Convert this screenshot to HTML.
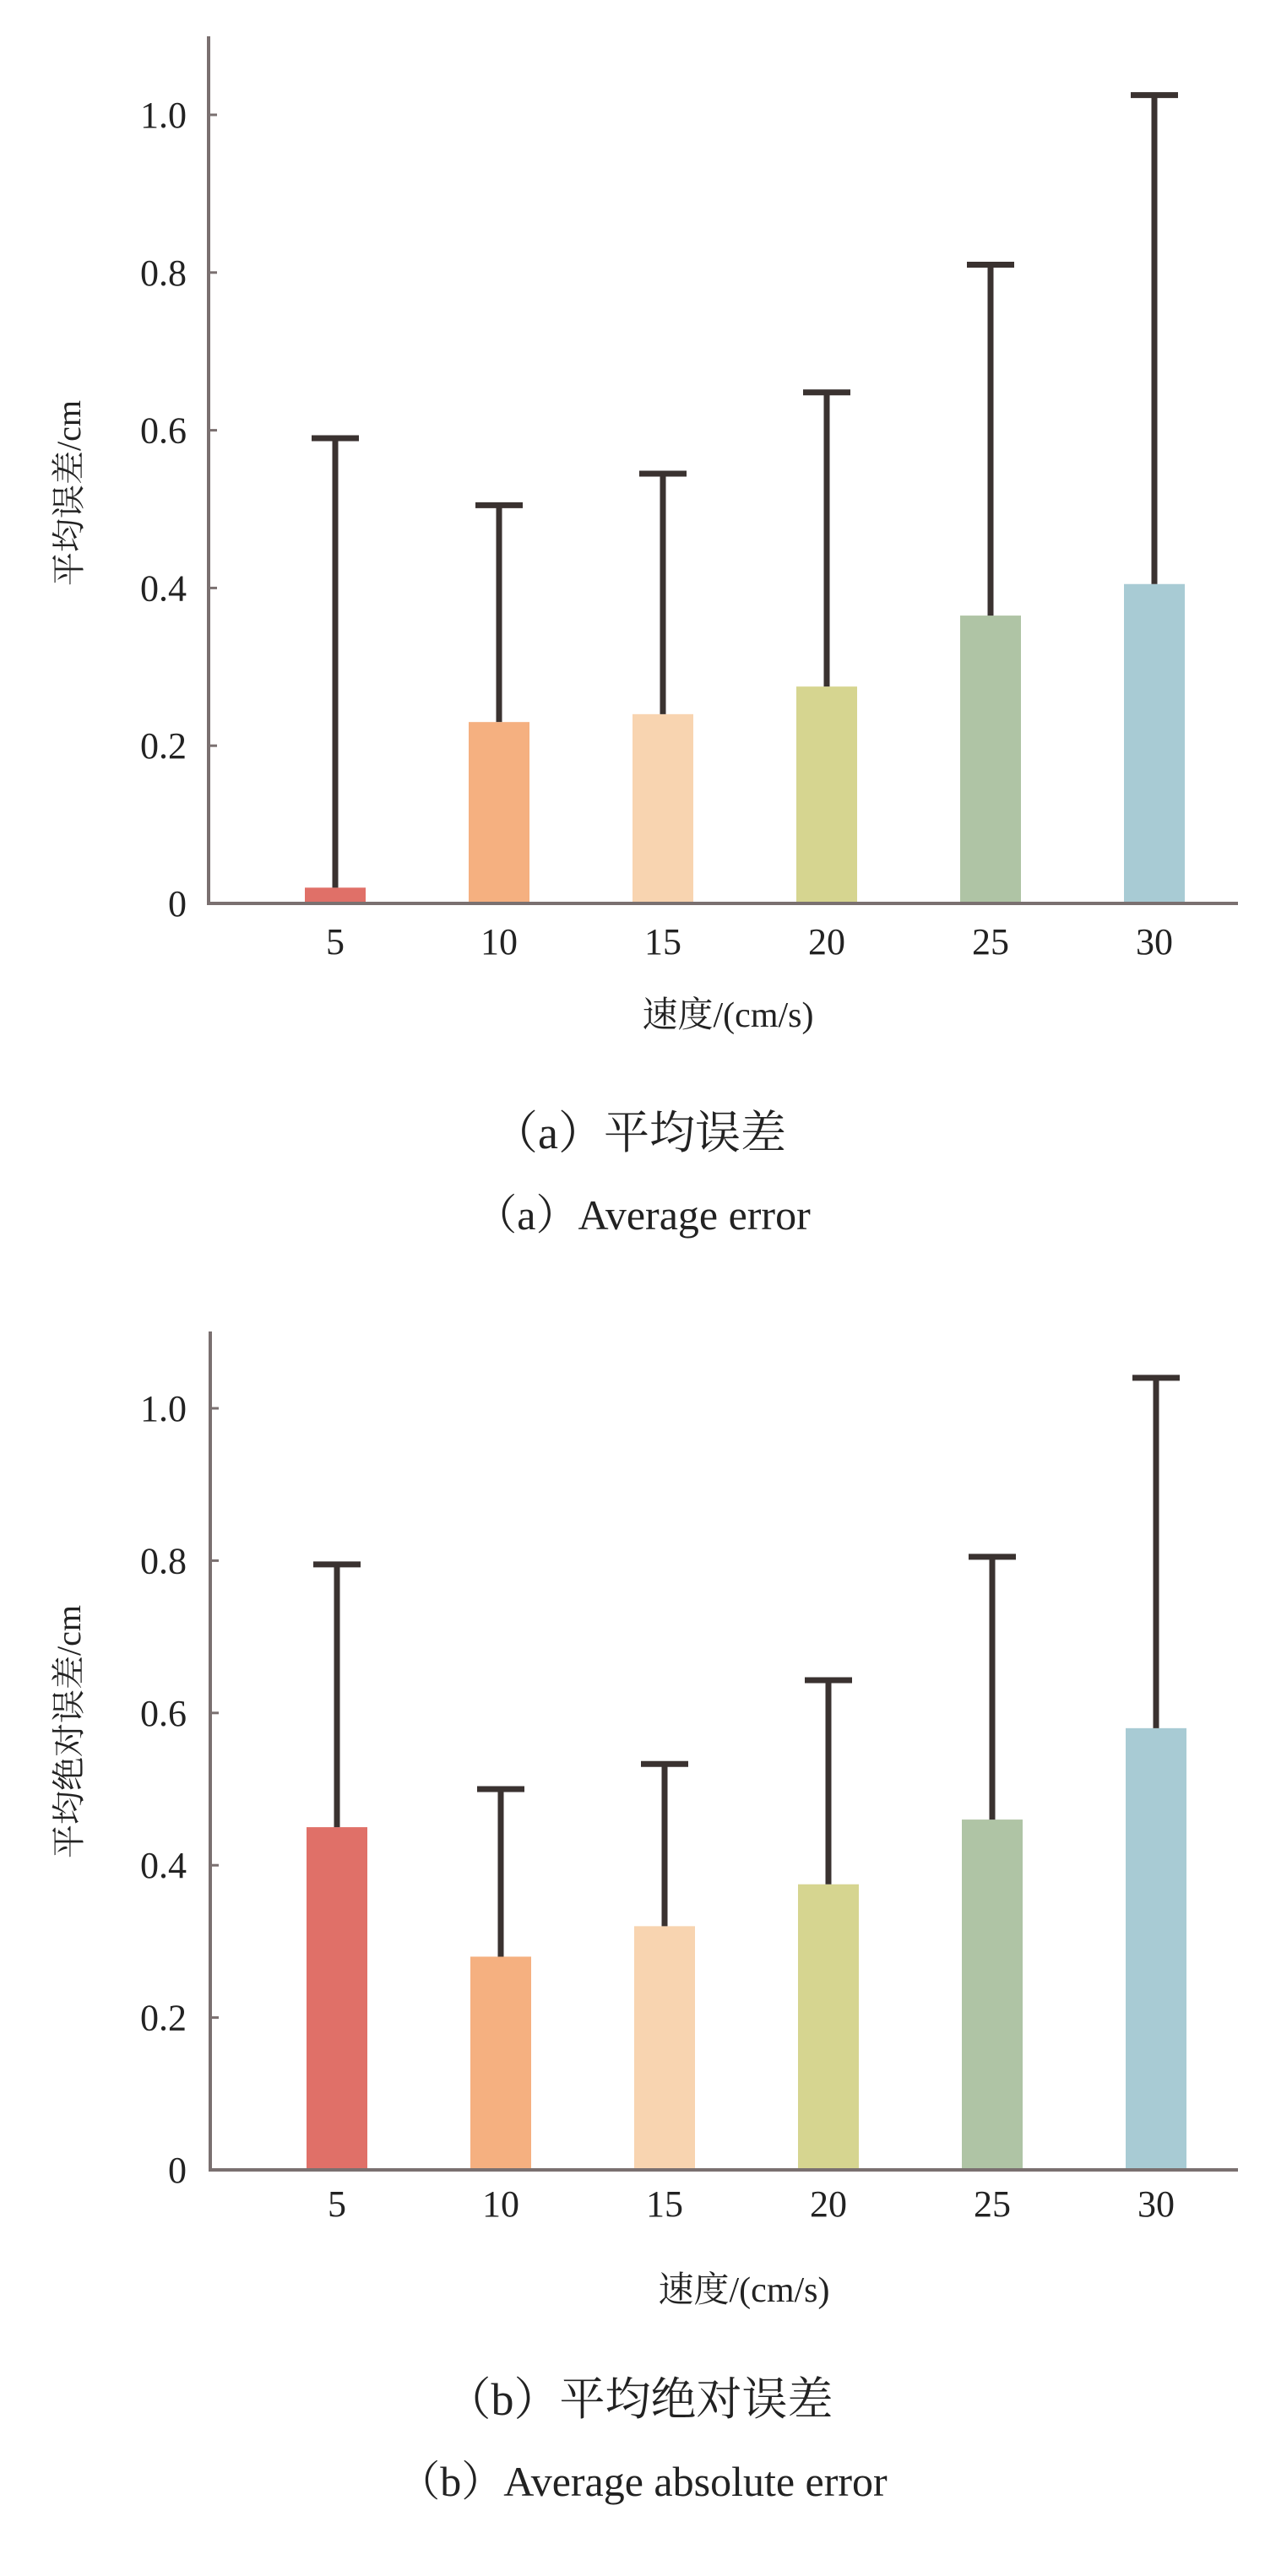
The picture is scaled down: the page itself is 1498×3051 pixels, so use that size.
<!DOCTYPE html>
<html><head><meta charset="utf-8">
<style>
html,body{margin:0;padding:0;background:#fff;}
svg{display:block;}
text{font-family:"Liberation Serif","Noto Serif CJK SC","Noto Sans CJK SC",serif;fill:#222;}
</style></head>
<body>
<svg id="chart" width="1498" height="3051" viewBox="0 0 1498 3051" xmlns="http://www.w3.org/2000/svg"></svg>
<script>
const categories = ["5","10","15","20","25","30"];
const meanA = [0.02,0.23,0.24,0.275,0.365,0.405];
const upperA = [0.59,0.505,0.545,0.648,0.81,1.025];
const meanB = [0.45,0.28,0.32,0.375,0.46,0.58];
const upperB = [0.795,0.5,0.533,0.643,0.805,1.04];
const yTicks = [0,0.2,0.4,0.6,0.8,1.0];
const yTickLabels = ["0","0.2","0.4","0.6","0.8","1.0"];
const colors = ["#e07068","#f5b080","#f8d4b0","#d6d590","#afc4a5","#a8cbd4"];

const NS="http://www.w3.org/2000/svg";
const svg=document.getElementById('chart');
function mk(tag,attrs,parent){const e=document.createElementNS(NS,tag);for(const k in attrs)e.setAttribute(k,attrs[k]);(parent||svg).appendChild(e);return e;}

function drawChart(cfg){
  const g=mk('g',{});
  
  
  const y=v=>cfg.zeroY-v*cfg.unit;
  const x=i=>cfg.x0+i*cfg.step;
  // bars
  cfg.means.forEach((v,i)=>{
    const r=mk('rect',{x:x(i)-36,y:y(v),width:72,height:cfg.zeroY-y(v),fill:colors[i]},g);
    
    
    const l=mk('line',{x1:x(i),x2:x(i),y1:y(v),y2:y(cfg.uppers[i]),stroke:'#3a3230','stroke-width':7},g);
    
    
    const c=mk('line',{x1:x(i)-28,x2:x(i)+28,y1:y(cfg.uppers[i]),y2:y(cfg.uppers[i]),stroke:'#3a3230','stroke-width':7},g);
    
    
    const t=mk('text',{x:x(i),y:cfg.tickY,'font-size':44,'text-anchor':'middle'},g);
    t.textContent=categories[i];
    
    
  });
  // axes
  const ya=mk('line',{x1:cfg.axisX,x2:cfg.axisX,y1:cfg.topY,y2:cfg.zeroY+2,stroke:'#7a7070','stroke-width':4},g);
  
  
  const xa=mk('line',{x1:cfg.axisX-2,x2:1466,y1:cfg.zeroY,y2:cfg.zeroY,stroke:'#7a7070','stroke-width':4},g);
  
  
  yTicks.forEach((v,i)=>{
    const tk=mk('line',{x1:cfg.axisX,x2:cfg.axisX+10,y1:y(v),y2:y(v),stroke:'#7a7070','stroke-width':3},g);
    
    
    const t=mk('text',{x:221,y:y(v)+15,'font-size':44,'text-anchor':'end'},g);
    t.textContent=yTickLabels[i];
    
    
  });
  const yt=mk('text',{x:0,y:0,'font-size':40,'text-anchor':'middle',transform:`translate(${cfg.yTitleX},${cfg.yTitleY}) rotate(-90)`},g);
  yt.textContent=cfg.yTitle;
  
  
  const xt=mk('text',{x:cfg.xTitleX,y:cfg.xTitleY,'font-size':42,'text-anchor':'middle'},g);
  xt.textContent='速度/(cm/s)';
  
  
  const c1=mk('text',{x:757,y:cfg.cap1Y,'font-size':54,'text-anchor':'middle'},g);
  c1.textContent=cfg.cap1;
  
  
  const c2=mk('text',{x:761,y:cfg.cap2Y,'font-size':50,'text-anchor':'middle'},g);
  c2.textContent=cfg.cap2;
  
  
}

drawChart({name:'chart-average-error',means:meanA,uppers:upperA,zeroY:1070,unit:934,x0:397,step:194,axisX:247,topY:43,tickY:1130,
  yTitle:'平均误差/cm',yTitleX:95,yTitleY:584,xTitleX:862,xTitleY:1216,cap1:'（a）平均误差',cap2:'（a）Average error',cap1Y:1360,cap2Y:1456});
drawChart({name:'chart-average-absolute-error',means:meanB,uppers:upperB,zeroY:2570,unit:902,x0:399,step:194,axisX:249,topY:1577,tickY:2625,
  yTitle:'平均绝对误差/cm',yTitleX:95,yTitleY:2051,xTitleX:881,xTitleY:2726,cap1:'（b）平均绝对误差',cap2:'（b）Average absolute error',cap1Y:2860,cap2Y:2956});
</script>
</body></html>
